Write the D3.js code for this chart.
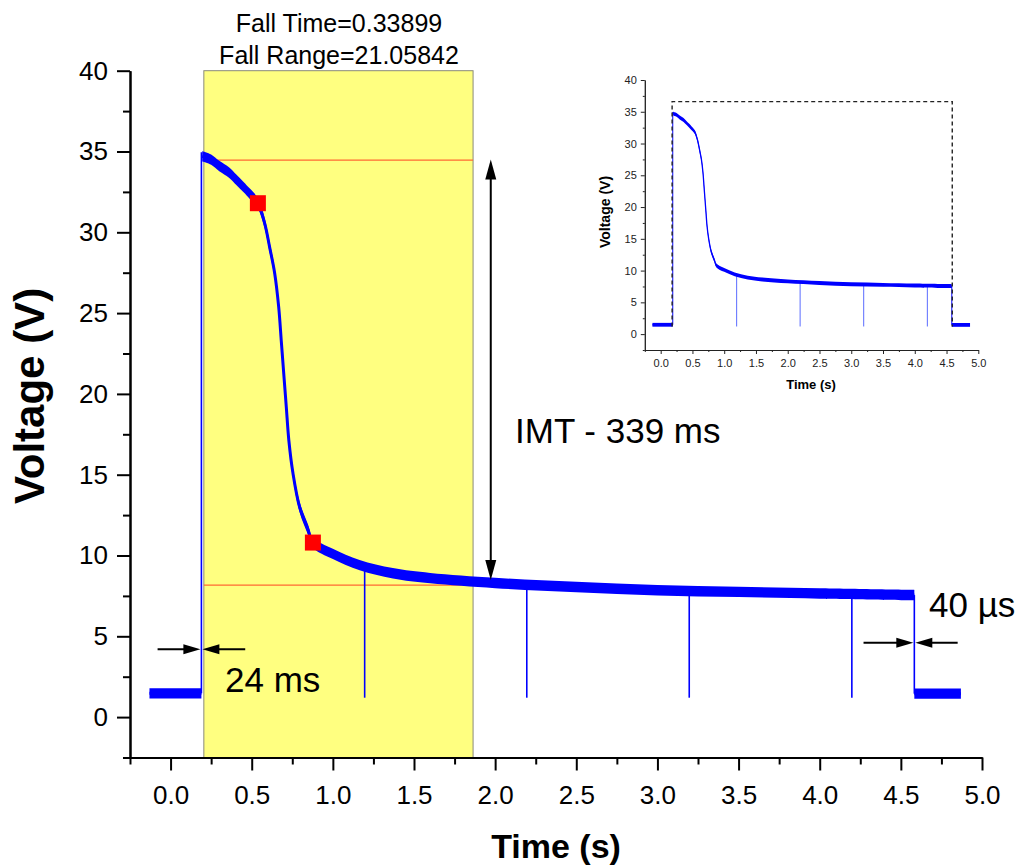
<!DOCTYPE html>
<html>
<head>
<meta charset="utf-8">
<script src="https://cdn.jsdelivr.net/npm/d3@7"></script>
<style>
  html, body { margin: 0; padding: 0; background: #fff; }
  svg { display: block; font-family: "Liberation Sans", Arial, sans-serif; }
</style>
</head>
<body>
<svg id="chart" width="1020" height="868"></svg>
<script>
// ---------------- data ----------------
const xDomain = [-0.25, 5.0];
const yDomain = [-2.5, 40];
const xMajorTicks = [0, 0.5, 1.0, 1.5, 2.0, 2.5, 3.0, 3.5, 4.0, 4.5, 5.0];
const xMinorTicks = [-0.25, 0.25, 0.75, 1.25, 1.75, 2.25, 2.75, 3.25, 3.75, 4.25, 4.75];
const yMajorTicks = [0, 5, 10, 15, 20, 25, 30, 35, 40];
const yMinorTicks = [-2.5, 2.5, 7.5, 12.5, 17.5, 22.5, 27.5, 32.5, 37.5];

// baseline before the pulse
const preT = [-0.13, 0.19];
const preV = [1.47, 1.47];
// decay during the pulse
const decayT = [0.195, 0.25, 0.30, 0.36, 0.405, 0.45, 0.487, 0.538, 0.58, 0.61, 0.641, 0.666, 0.682, 0.697, 0.713, 0.729, 0.754, 0.795, 0.847, 0.877, 1.0, 1.165, 1.37, 1.6, 2.0, 2.5, 3.0, 3.5, 4.0, 4.583];
const decayV = [34.7, 34.5, 34.1, 33.7, 33.25, 32.8, 32.4, 31.8, 30.55, 29.1, 27.5, 25.4, 23.3, 21.3, 19.2, 17.1, 15.1, 13.0, 11.6, 10.8, 10.1, 9.4, 8.9, 8.6, 8.3, 8.05, 7.85, 7.75, 7.65, 7.55];
// baseline after the pulse
const postT = [4.583, 4.87];
const postV = [1.45, 1.45];
// edges of the pulse
const riseT = 0.19, riseTop = 34.95;
const dropT = 4.583;
// short dips
const spikeT = [1.196, 2.195, 3.196, 4.198];
const spikeTop = [9.35, 8.3, 7.85, 7.65];
const spikeBottom = 1.2;

// fall-time analysis
const fallWindow = [0.205, 1.864];
const fallLevels = [34.47, 8.17];
const markerT = [0.538, 0.877];
const markerV = [31.8, 10.8];
const imtArrowT = 1.973;
const imtArrowV = [8.48, 34.5];
const edgeArrow1 = { t: [-0.08, 0.19, 0.46], v: 4.2 };   // 24 ms
const edgeArrow2 = { t: [4.27, 4.583, 4.85], v: 4.6 };   // 40 µs
const insetBoxT = [0.18, 4.59];
const insetBoxV = [1.2, 36.6];

const titleLines = ["Fall Time=0.33899", "Fall Range=21.05842"];

// ---------------- drawing ----------------
const svg = d3.select("#chart");
const FONT = "'Liberation Sans', Arial, sans-serif";
const curve = d3.curveCatmullRom.alpha(0.5);

function drawTrace(g, x, y, o) {
  const area = d3.area().x(d => x(d[0])).y0(d => y(d[1] - o.band)).y1(d => y(d[1] + o.band)).curve(curve);
  const line = d3.line().x(d => x(d[0])).y(d => y(d[1])).curve(curve);
  const segs = [d3.zip(preT, preV), d3.zip(decayT, decayV), d3.zip(postT, postV)];
  // thin edges
  g.append("line").attr("x1", x(riseT)).attr("x2", x(riseT)).attr("y1", y(preV[1])).attr("y2", y(riseTop))
    .attr("stroke", "#0000ff").attr("stroke-width", o.edgeW);
  g.append("line").attr("x1", x(dropT)).attr("x2", x(dropT)).attr("y1", y(decayV[decayV.length - 1])).attr("y2", y(postV[0]))
    .attr("stroke", "#0000ff").attr("stroke-width", o.edgeW);
  spikeT.forEach((t, i) => {
    g.append("line").attr("x1", x(t)).attr("x2", x(t)).attr("y1", y(spikeTop[i])).attr("y2", y(spikeBottom))
      .attr("stroke", o.spikeColor).attr("stroke-width", o.edgeW);
  });
  segs.forEach(s => {
    g.append("path").attr("d", area(s)).attr("fill", "#0000ff");
    g.append("path").attr("d", line(s)).attr("fill", "none").attr("stroke", "#0000ff").attr("stroke-width", o.lineW).attr("stroke-linejoin", "round");
  });
}

function arrowHead(g, tipX, tipY, dx, dy, len, half) {
  const bx = tipX - dx * len, by = tipY - dy * len;
  const px = -dy, py = dx;
  g.append("path")
    .attr("d", `M${tipX},${tipY}L${bx + px * half},${by + py * half}L${bx - px * half},${by - py * half}Z`)
    .attr("fill", "#000");
}

// ---------- main chart ----------
const x = d3.scaleLinear().domain(xDomain).range([130, 982]);
const y = d3.scaleLinear().domain(yDomain).range([757.5, 70.7]);
const main = svg.append("g");

main.append("rect")
  .attr("x", x(fallWindow[0])).attr("y", y(40))
  .attr("width", x(fallWindow[1]) - x(fallWindow[0])).attr("height", y(-2.5) - y(40))
  .attr("fill", "#ffff80").attr("stroke", "#8a8a7a").attr("stroke-width", 1);

fallLevels.forEach(v => {
  main.append("line").attr("x1", x(fallWindow[0])).attr("x2", x(fallWindow[1]))
    .attr("y1", y(v)).attr("y2", y(v)).attr("stroke", "#ff6a33").attr("stroke-width", 1.3);
});

drawTrace(main, x, y, { band: 0.32, lineW: 3, edgeW: 1.6, spikeColor: "#0000ff" });

markerT.forEach((t, i) => {
  main.append("rect").attr("x", x(t) - 8).attr("y", y(markerV[i]) - 8).attr("width", 16).attr("height", 16).attr("fill", "#ff0000");
});

main.append("g").attr("transform", `translate(0,${y(-2.5)})`)
  .call(d3.axisBottom(x).tickValues(xMajorTicks).tickFormat(d3.format(".1f")).tickSize(13).tickSizeOuter(0).tickPadding(15));
main.append("g").attr("transform", `translate(0,${y(-2.5)})`)
  .call(d3.axisBottom(x).tickValues(xMinorTicks).tickFormat("").tickSize(7).tickSizeOuter(0));
main.append("g").attr("transform", `translate(${x(-0.25)},0)`)
  .call(d3.axisLeft(y).tickValues(yMajorTicks).tickFormat(d3.format("d")).tickSize(13).tickSizeOuter(0).tickPadding(9));
main.append("g").attr("transform", `translate(${x(-0.25)},0)`)
  .call(d3.axisLeft(y).tickValues(yMinorTicks).tickFormat("").tickSize(7).tickSizeOuter(0));
main.selectAll(".domain").attr("stroke", "#000").attr("stroke-width", 2);
main.selectAll(".tick line").attr("stroke", "#000").attr("stroke-width", 2);
main.selectAll(".tick text").attr("font-family", FONT).attr("font-size", 26).attr("fill", "#000");

main.append("text").attr("x", 556).attr("y", 858).attr("text-anchor", "middle")
  .attr("font-family", FONT).attr("font-weight", "bold").attr("font-size", 34).text("Time (s)");
main.append("text").attr("transform", "translate(44,396) rotate(-90)").attr("text-anchor", "middle")
  .attr("font-family", FONT).attr("font-weight", "bold").attr("font-size", 42).text("Voltage (V)");

titleLines.forEach((s, i) => {
  main.append("text").attr("x", 339).attr("y", 32 + i * 32).attr("text-anchor", "middle")
    .attr("font-family", FONT).attr("font-size", 25).attr("fill", "#000").text(s);
});

main.append("line").attr("x1", x(imtArrowT)).attr("x2", x(imtArrowT))
  .attr("y1", y(imtArrowV[0]) - 16).attr("y2", y(imtArrowV[1]) + 16).attr("stroke", "#000").attr("stroke-width", 2);
arrowHead(main, x(imtArrowT), y(imtArrowV[1]), 0, -1, 20, 5.5);
arrowHead(main, x(imtArrowT), y(imtArrowV[0]), 0, 1, 20, 5.5);
main.append("text").attr("x", 515).attr("y", 443).attr("font-family", FONT).attr("font-size", 35).text("IMT - 339 ms");

[edgeArrow1, edgeArrow2].forEach(a => {
  const yy = y(a.v);
  main.append("line").attr("x1", x(a.t[0])).attr("x2", x(a.t[1]) - 10).attr("y1", yy).attr("y2", yy).attr("stroke", "#000").attr("stroke-width", 2);
  main.append("line").attr("x1", x(a.t[2])).attr("x2", x(a.t[1]) + 10).attr("y1", yy).attr("y2", yy).attr("stroke", "#000").attr("stroke-width", 2);
  arrowHead(main, x(a.t[1]) - 1, yy, 1, 0, 17, 5);
  arrowHead(main, x(a.t[1]) + 1, yy, -1, 0, 17, 5);
});
main.append("text").attr("x", 225).attr("y", 692).attr("font-family", FONT).attr("font-size", 35).text("24 ms");
main.append("text").attr("x", 929).attr("y", 617).attr("font-family", FONT).attr("font-size", 35).text("40 µs");

// ---------- inset ----------
const xi = d3.scaleLinear().domain(xDomain).range([644.8, 978.3]);
const yi = d3.scaleLinear().domain(yDomain).range([350, 80]);
const inset = svg.append("g");

drawTrace(inset, xi, yi, { band: 0.3, lineW: 1.3, edgeW: 1, spikeColor: "#5a6cff" });

inset.append("path")
  .attr("d", `M${xi(insetBoxT[0])},${yi(insetBoxV[0])}V${yi(insetBoxV[1])}H${xi(insetBoxT[1])}V${yi(insetBoxV[0])}`)
  .attr("fill", "none").attr("stroke", "#222").attr("stroke-width", 1.4).attr("stroke-dasharray", "4,3");

inset.append("g").attr("transform", `translate(0,${yi(-2.5)})`)
  .call(d3.axisBottom(xi).tickValues(xMajorTicks).tickFormat(d3.format(".1f")).tickSize(4).tickSizeOuter(0).tickPadding(5));
inset.append("g").attr("transform", `translate(0,${yi(-2.5)})`)
  .call(d3.axisBottom(xi).tickValues(xMinorTicks).tickFormat("").tickSize(2).tickSizeOuter(0));
inset.append("g").attr("transform", `translate(${xi(-0.25)},0)`)
  .call(d3.axisLeft(yi).tickValues(yMajorTicks).tickFormat(d3.format("d")).tickSize(4).tickSizeOuter(0).tickPadding(4));
inset.append("g").attr("transform", `translate(${xi(-0.25)},0)`)
  .call(d3.axisLeft(yi).tickValues(yMinorTicks).tickFormat("").tickSize(2).tickSizeOuter(0));
inset.selectAll(".domain").attr("stroke", "#222").attr("stroke-width", 1);
inset.selectAll(".tick line").attr("stroke", "#222").attr("stroke-width", 1);
inset.selectAll(".tick text").attr("font-family", FONT).attr("font-size", 11).attr("fill", "#222");

inset.append("text").attr("x", 811).attr("y", 389).attr("text-anchor", "middle")
  .attr("font-family", FONT).attr("font-weight", "bold").attr("font-size", 13).text("Time (s)");
inset.append("text").attr("transform", "translate(610,212) rotate(-90)").attr("text-anchor", "middle")
  .attr("font-family", FONT).attr("font-weight", "bold").attr("font-size", 14).text("Voltage (V)");
</script>
</body>
</html>
